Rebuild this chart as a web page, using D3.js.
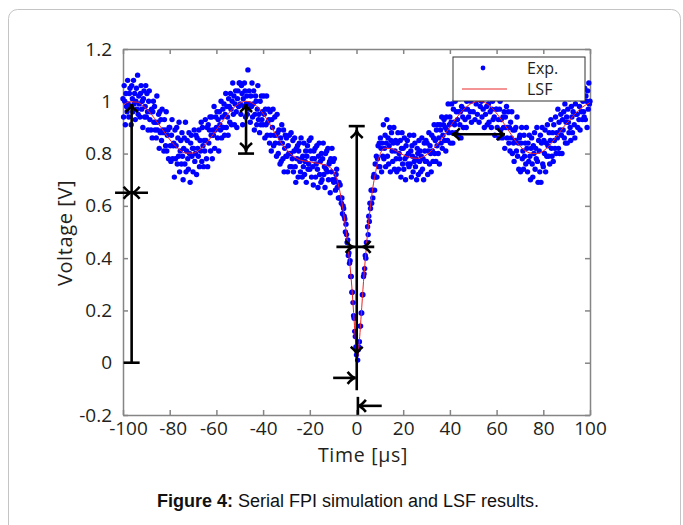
<!DOCTYPE html>
<html>
<head>
<meta charset="utf-8">
<script src="https://cdn.jsdelivr.net/npm/d3@7"></script>
<style>
  body { margin: 0; background: #fff; }
  svg { display: block; }
  .axis text { font-family: "Open Sans", sans-serif; font-size: 19px; fill: #231f20; }
  .axis path, .axis line { stroke: #858585; stroke-width: 1.5; }
</style>
</head>
<body>
<svg width="683" height="525"></svg>
<script>
const xTicks = [-100, -80, -60, -40, -20, 0, 20, 40, 60, 80, 100]
const yTicks = [-0.2, 0, 0.2, 0.4, 0.6, 0.8, 1, 1.2]

// LSF fit curve
const lsfT = [-100, -97, -94, -91, -88, -85, -82, -79, -76, -73, -70, -67, -64, -61, -58, -55, -52, -49, -47,
  -45, -42, -39, -36, -33, -30, -27, -24, -21, -18, -15, -12, -10, -8, -7, -6, -5, -4, -3, -2, -1, 0, 0.5,
  1, 2, 3, 4, 5, 6, 7, 8, 9, 10, 12, 14, 17, 20, 23, 26, 29, 32, 35, 38, 41, 44, 47, 50, 53, 56, 59, 62,
  65, 68, 71, 74, 77, 80, 83, 86, 89, 92, 95, 98, 100]
const lsfV = [0.985, 0.998, 0.997, 0.98, 0.952, 0.916, 0.878, 0.843, 0.816, 0.802, 0.802, 0.816, 0.843, 0.878, 0.916, 0.952, 0.98, 0.997, 1.0,
  0.995, 0.975, 0.94, 0.895, 0.85, 0.815, 0.79, 0.775, 0.77, 0.765, 0.76, 0.75, 0.735, 0.69, 0.65, 0.6, 0.54, 0.47, 0.39, 0.29, 0.16, 0.04, 0.025,
  0.06, 0.18, 0.31, 0.42, 0.52, 0.6, 0.67, 0.72, 0.765, 0.795, 0.82, 0.82, 0.81, 0.795, 0.785, 0.782, 0.79, 0.81, 0.84, 0.875, 0.915, 0.95, 0.978, 0.995, 1.0, 0.99, 0.965, 0.93,
  0.89, 0.85, 0.82, 0.803, 0.8, 0.81, 0.835, 0.87, 0.905, 0.935, 0.965, 0.985, 0.995]

// Exp. samples in hundredths of a volt, one every 0.25 us from -100 us (one row = 10 us)
const expStart = -100
const expStep = 0.25
const expRows = [
  [101,94,106,100,91,103,98,96,108,99,94,103,105,98,91,106,101,96,108,99,103,93,100,105,97,110,95,102,99,94,103,106,97,100,90,101,104,94,98,106],
  [94,103,96,89,100,104,93,96,89,97,86,96,100,92,98,89,92,86,102,89,92,95,82,96,88,93,85,97,89,88,81,93,89,83,96,81,87,89,78,90],
  [90,83,77,87,93,78,83,84,71,89,78,83,90,76,86,79,92,73,81,85,76,88,79,70,82,86,76,92,73,81,85,78,74,88,80,69,84,87,79,82],
  [73,82,89,77,80,87,72,86,82,79,89,75,85,81,92,77,90,83,75,85,81,93,85,78,90,75,91,84,89,94,81,87,94,78,89,87,98,82,89,94],
  [90,96,86,93,81,96,91,89,100,86,94,97,90,99,87,95,103,90,98,94,87,101,98,92,103,97,91,100,107,95,102,91,99,104,96,90,101,104,98,107],
  [107,99,95,106,103,91,101,98,107,104,94,99,102,95,112,97,104,99,92,102,98,107,94,99,104,89,95,102,100,91,97,106,93,95,88,100,91,102,93,96],
  [91,102,95,86,97,91,102,87,92,97,93,84,96,87,81,93,90,97,83,87,94,84,87,79,95,88,80,89,84,76,86,77,91,84,78,89,73,82,87,79],
  [86,79,73,83,80,87,75,80,88,75,78,85,73,81,86,75,69,82,78,83,71,81,84,77,73,86,78,71,79,75,84,72,77,81,69,79,83,74,76,85],
  [74,81,86,71,78,75,68,81,78,82,71,76,83,74,67,79,84,72,77,69,80,70,78,84,72,75,67,80,74,81,73,82,70,76,77,65,78,73,82,70],
  [77,69,78,70,66,72,74,67,69,63,69,63,68,63,61,63,57,60,59,56,55,50,53,49,46,47,41,42,38,39,33,33,27,27,23,18,17,12,10,6],
  [3,5,1,5,6,8,14,14,19,19,26,26,33,34,36,41,40,46,46,52,49,56,54,61,59,66,61,66,63,71,72,66,76,71,79,71,78,83,75,84],
  [75,86,82,73,84,79,91,78,82,87,75,84,93,79,86,76,83,90,73,85,88,81,77,84,90,74,81,85,78,73,84,88,74,80,78,85,71,82,88,76],
  [82,74,86,78,70,83,79,85,76,80,75,87,76,81,71,83,79,73,87,77,84,75,78,70,82,80,72,85,77,81,73,79,86,74,78,70,84,81,77,85],
  [77,84,72,81,88,76,83,80,73,87,81,77,86,91,80,85,77,89,83,91,80,86,76,91,89,84,94,82,87,91,93,85,90,81,94,89,85,99,88,91],
  [94,84,92,99,88,84,97,92,91,100,88,96,103,93,87,96,101,91,96,86,98,103,94,90,107,97,93,103,90,100,97,104,94,102,108,96,100,92,103,107],
  [96,107,102,93,105,99,110,95,101,104,92,103,98,107,100,94,109,97,105,90,101,95,105,98,91,102,99,92,106,96,103,90,97,100,93,105,94,87,102,97],
  [97,90,102,93,86,97,100,89,93,102,86,94,90,96,82,94,90,98,86,90,96,84,90,81,92,86,96,80,89,84,77,89,85,90,81,94,79,84,74,86],
  [87,73,84,90,78,81,74,87,79,84,76,90,82,73,84,77,87,79,70,82,86,76,71,83,80,88,74,82,78,90,77,69,85,81,73,87,69,84,90,76],
  [75,85,80,89,73,84,79,91,83,79,88,76,85,93,82,79,88,77,91,85,82,94,80,88,86,97,82,92,80,89,95,87,80,93,89,96,86,99,84,92],
  [94,84,97,92,88,101,90,85,98,94,88,96,102,91,86,99,95,103,95,90,102,93,98,89,101,96,107,93,100,96,94,105,93,102,100,90,104,97,107,99],
  [100]
]

// annotation marks (data units): lines, arrow tips and end bars
const annoLines = [
  [-96.3, 0, -96.3, 0.99], [-103.4, 0.65, -89.3, 0.65],
  [-47.3, 0.8, -47.3, 0.99],
  [0.1, -0.105, 0.1, 0.905], [-8.6, 0.443, 7.6, 0.443],
  [-10, -0.058, -0.4, -0.058], [0.6, -0.165, 10.8, -0.165],
  [40.8, 0.874, 63.6, 0.874]
]
const annoHeads = [
  [-96.3, 0.99, "up"], [-96.3, 0.65, "right"], [-96.3, 0.65, "left"],
  [-47.3, 0.99, "up"], [-47.3, 0.81, "down"],
  [0.1, 0.89, "up"], [0.1, 0.03, "down"],
  [-1.2, 0.443, "right"], [2.6, 0.443, "left"],
  [-0.4, -0.058, "right"], [0.6, -0.165, "left"],
  [40.8, 0.874, "left"], [63.6, 0.874, "right"]
]
const annoBars = [
  [-96.3, 0, "h"], [-47.3, 0.8, "h"], [0.1, 0.905, "h"], [0.6, -0.165, "v"]
]

const svg = d3.select("svg")

// outer frame of the figure
svg.append("rect")
  .attr("x", 8.5).attr("y", 9.5)
  .attr("width", 672).attr("height", 560)
  .attr("rx", 9)
  .attr("fill", "none")
  .attr("stroke", "#c4c4c4")
  .attr("stroke-width", 1)

const x = d3.scaleLinear().domain([-100, 100]).range([123, 590])
const y = d3.scaleLinear().domain([-0.2, 1.2]).range([415, 49])

// plain hyphen minus signs, as in the figure
const fmt = d => String(d)

const xAxisG = svg.append("g").attr("class", "axis")
  .attr("transform", "translate(0,415)")
  .call(d3.axisBottom(x).tickValues(xTicks).tickSize(-5).tickSizeOuter(0).tickPadding(7).tickFormat(fmt))
// the leftmost labels sit a little off their ticks in the figure
xAxisG.selectAll(".tick text")
  .attr("dx", d => d === -100 ? 5 : d === -80 ? 3 : d === -60 ? -3 : 0)
svg.append("g").attr("class", "axis")
  .attr("transform", "translate(0,49)")
  .call(d3.axisTop(x).tickValues(xTicks).tickSize(-5).tickSizeOuter(0).tickFormat(""))
svg.append("g").attr("class", "axis")
  .attr("transform", "translate(123,0)")
  .call(d3.axisLeft(y).tickValues(yTicks).tickSize(-5).tickSizeOuter(0).tickPadding(11).tickFormat(fmt))
svg.append("g").attr("class", "axis")
  .attr("transform", "translate(590,0)")
  .call(d3.axisRight(y).tickValues(yTicks).tickSize(-5).tickSizeOuter(0).tickFormat(""))

// Exp. points
const expV = expRows.flat()
svg.append("g")
  .selectAll("circle")
  .data(expV)
  .enter()
  .append("circle")
  .attr("cx", (d, i) => x(expStart + i * expStep))
  .attr("cy", d => y(d / 100))
  .attr("r", 2.7)
  .attr("fill", "#0000ff")

// LSF curve
const lsf = lsfT.map((t, i) => [t, lsfV[i]])
svg.append("path")
  .datum(lsf)
  .attr("fill", "none")
  .attr("stroke", "#ee2222")
  .attr("stroke-width", 1)
  .attr("d", d3.line().x(d => x(d[0])).y(d => y(d[1])).curve(d3.curveMonotoneX))

// annotations
const anno = svg.append("g")
  .attr("fill", "none")
  .attr("stroke", "#000")
  .attr("stroke-width", 2.6)

anno.selectAll("line.seg")
  .data(annoLines)
  .enter()
  .append("line")
  .attr("class", "seg")
  .attr("x1", d => x(d[0])).attr("y1", d => y(d[1]))
  .attr("x2", d => x(d[2])).attr("y2", d => y(d[3]))

const dirs = { up: [0, -1], down: [0, 1], left: [-1, 0], right: [1, 0] }
anno.selectAll("path.head")
  .data(annoHeads)
  .enter()
  .append("path")
  .attr("class", "head")
  .attr("d", d => {
    const px = x(d[0]), py = y(d[1])
    const [dx, dy] = dirs[d[2]]
    const L = 8, W = 6
    const bx = px - dx * L, by = py - dy * L
    return `M${bx - dy * W},${by + dx * W}Q${px - dx * 3},${py - dy * 3} ${px},${py}` +
      `Q${px - dx * 3},${py - dy * 3} ${bx + dy * W},${by - dx * W}`
  })

anno.selectAll("line.bar")
  .data(annoBars)
  .enter()
  .append("line")
  .attr("class", "bar")
  .attr("x1", d => x(d[0]) - (d[2] === "h" ? 8 : 0))
  .attr("x2", d => x(d[0]) + (d[2] === "h" ? 8 : 0))
  .attr("y1", d => y(d[1]) - (d[2] === "v" ? 9 : 0))
  .attr("y2", d => y(d[1]) + (d[2] === "v" ? 9 : 0))

// legend
const lg = svg.append("g").attr("transform", "translate(453,57)")
lg.append("rect")
  .attr("width", 132).attr("height", 44)
  .attr("fill", "#fff").attr("stroke", "#333").attr("stroke-width", 1)
lg.append("circle").attr("cx", 30).attr("cy", 11).attr("r", 2.4).attr("fill", "#0000ff")
lg.append("line").attr("x1", 9).attr("x2", 54).attr("y1", 32).attr("y2", 32)
  .attr("stroke", "#f07070").attr("stroke-width", 1.5)
lg.selectAll("text")
  .data(["Exp.", "LSF"])
  .enter()
  .append("text")
  .attr("x", 74)
  .attr("y", (d, i) => 17 + i * 21)
  .attr("font-family", "Open Sans, sans-serif")
  .attr("font-size", 16)
  .attr("fill", "#231f20")
  .text(d => d)

// axis titles
svg.append("text")
  .attr("x", 363).attr("y", 462)
  .attr("text-anchor", "middle")
  .attr("font-family", "Open Sans, sans-serif")
  .attr("font-size", 19.5)
  .attr("letter-spacing", 0.7)
  .attr("fill", "#231f20")
  .text("Time [\u03bcs]")

svg.append("text")
  .attr("transform", "translate(72,233) rotate(-90)")
  .attr("text-anchor", "middle")
  .attr("font-family", "Open Sans, sans-serif")
  .attr("font-size", 20)
  .attr("letter-spacing", 0.6)
  .attr("fill", "#231f20")
  .text("Voltage [V]")

// caption
const cap = svg.append("text")
  .attr("x", 348).attr("y", 507)
  .attr("text-anchor", "middle")
  .attr("font-family", "Liberation Sans, Arial, sans-serif")
  .attr("font-size", 18)
  .attr("fill", "#111")
cap.append("tspan").attr("font-weight", "bold").text("Figure 4:")
cap.append("tspan").text(" Serial FPI simulation and LSF results.")
</script>
</body>
</html>
